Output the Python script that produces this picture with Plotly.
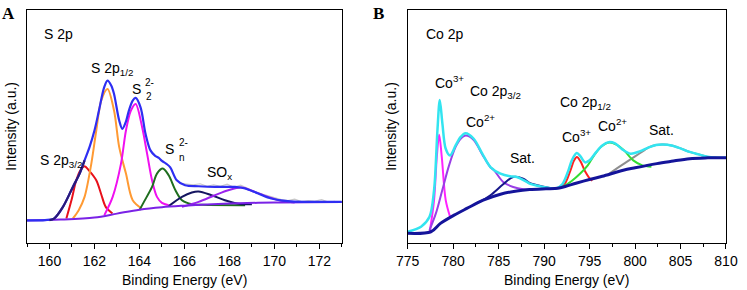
import plotly.graph_objects as go

# ---------------- Panel A: S 2p ----------------
a_env_x = [159.0, 159.8, 160.2, 160.6, 161.04, 161.34, 161.56, 161.78, 162.0, 162.2, 162.43, 162.58, 162.75, 162.87,
           163.1, 163.24, 163.4, 163.53, 163.7, 163.83, 164.05, 164.27, 164.49, 164.7, 164.86, 165.0, 165.2, 165.37,
           165.66, 166.03, 166.63, 167.36, 168.25, 168.7, 169.28, 169.86, 170.6, 171.5, 173.0]
a_env_y = [22.7, 23.0, 24.5, 36.3, 56.3, 69.7, 83.0, 96.3, 113.0, 133.0, 156.3, 163.0, 158.0, 149.7,
           123.0, 114.7, 122.0, 133.0, 143.0, 145.7, 136.3, 109.7, 93.0, 87.5, 85.5, 82.5, 79.5, 76.0,
           63.0, 58.0, 57.0, 56.3, 56.3, 54.7, 49.7, 44.7, 42.0, 41.3, 41.3]
a_navy_x = [160.0, 160.2, 160.6, 161.04, 161.34, 161.56]
a_navy_y = [23.0, 24.5, 36.3, 56.3, 69.7, 83.0]
a_base_x = [159.0, 160.5, 162.0, 163.0, 164.0, 165.0, 166.0, 167.0, 168.0, 170.0, 173.0]
a_base_y = [22.7, 23.5, 25.5, 29.5, 33.5, 36.0, 37.5, 38.7, 39.6, 40.7, 41.2]
a_red_x = [160.75, 161.0, 161.19, 161.4, 161.56, 161.75, 162.08, 162.3, 162.5, 162.8]
a_red_y = [24.7, 45.0, 63.0, 74.0, 77.0, 73.0, 63.0, 49.0, 36.3, 29.7]
a_org_x = [161.04, 161.3, 161.56, 161.86, 162.08, 162.3, 162.58, 162.87, 163.1, 163.4, 163.7, 164.1]
a_org_y = [24.7, 33.0, 46.3, 79.7, 113.0, 143.0, 154.7, 133.0, 96.3, 69.7, 43.0, 34.7]
a_mag_x = [162.44, 162.81, 163.18, 163.4, 163.62, 163.83, 164.12, 164.34, 164.56, 164.78, 165.0, 165.3]
a_mag_y = [28.0, 46.3, 79.7, 113.0, 133.0, 139.7, 116.3, 89.7, 63.0, 46.3, 40.3, 38.0]
a_grn_x = [164.0, 164.2, 164.56, 164.78, 165.04, 165.3, 165.6, 165.89, 166.33, 166.8, 168.7]
a_grn_y = [33.0, 41.3, 56.3, 69.7, 74.7, 68.0, 53.0, 43.0, 39.0, 38.3, 38.0]
a_nvy_x = [165.3, 165.89, 166.33, 166.63, 167.2, 167.8, 168.54, 169.0]
a_nvy_y = [37.0, 46.3, 50.7, 51.7, 48.0, 43.0, 39.0, 39.0]
a_sox_x = [165.89, 166.63, 167.36, 167.95, 168.54, 169.13, 169.72, 170.31, 170.9]
a_sox_y = [36.3, 41.3, 48.0, 53.0, 55.7, 51.3, 46.3, 42.3, 40.7]
a_raw_x = [165.8, 166.1, 166.4, 166.7, 167.0, 167.3, 167.6, 167.9, 168.2, 168.5, 168.8, 169.1, 169.5,
           169.9, 170.3, 170.6, 170.9, 171.2, 171.5, 171.8, 172.1, 172.4, 172.7]
a_raw_y = [60.0, 59.0, 58.5, 59.5, 57.0, 58.5, 57.0, 59.0, 56.0, 58.0, 55.0, 52.0, 49.0,
           46.0, 43.5, 42.5, 44.0, 41.5, 42.5, 42.0, 43.5, 41.0, 41.8]

# ---------------- Panel B: Co 2p ----------------
b_env_x = [775.0, 776.47, 777.4, 777.9, 778.27, 778.53, 778.82, 779.18, 779.66, 780.27, 780.8, 781.36, 782.26,
           783.2, 784.1, 785.2, 786.25, 787.0, 788.1, 788.4, 790.6, 791.3, 792.0, 792.6, 793.1, 793.6, 794.0,
           794.5, 795.0, 795.7, 796.4, 797.1, 797.8, 798.6, 799.5, 800.5, 801.5, 802.3, 803.1, 804.0, 805.0,
           806.0, 806.7, 807.8, 809.0, 810.0]
b_env_y = [11.3, 16.3, 26.3, 53.0, 113.0, 143.7, 119.7, 94.7, 88.0, 98.0, 106.3, 110.3, 104.7,
           89.7, 76.3, 69.7, 67.0, 66.3, 61.3, 59.7, 55.3, 54.7, 59.0, 71.0, 84.0, 90.3, 87.0,
           81.0, 83.0, 91.0, 98.0, 101.3, 100.0, 94.0, 89.7, 92.0, 96.0, 98.5, 99.0, 98.0, 95.0,
           91.5, 89.7, 87.0, 85.7, 85.5]
b_base_x = [775.0, 777.55, 778.6, 780.1, 781.5, 783.3, 785.2, 787.0, 788.4, 790.2, 791.5, 792.4, 793.5,
            795.1, 796.4, 798.7, 800.0, 802.4, 804.0, 806.0, 808.0, 810.0]
b_base_y = [9.7, 11.3, 19.7, 28.0, 34.7, 43.0, 49.0, 52.3, 53.7, 54.5, 55.0, 57.0, 60.0,
            64.0, 67.0, 73.0, 75.5, 79.7, 82.0, 84.7, 85.5, 85.7]
b_mag_x = [777.4, 777.9, 778.2, 778.46, 778.75, 779.18, 779.66]
b_mag_y = [9.7, 43.0, 86.3, 108.7, 86.3, 43.0, 26.3]
b_pur_x = [777.4, 778.1, 778.8, 779.55, 780.27, 780.8, 781.4, 782.26, 783.2, 784.1, 784.5, 785.5, 786.6,
           787.7, 788.4]
b_pur_y = [13.0, 29.7, 53.0, 78.0, 96.5, 104.5, 108.0, 103.5, 89.0, 76.0, 73.0, 61.3, 56.3,
           54.0, 53.7]
b_nvy_x = [782.6, 784.1, 785.5, 786.6, 787.7, 788.4, 789.5, 790.6]
b_nvy_y = [39.7, 48.0, 59.0, 66.3, 64.7, 60.3, 57.5, 55.3]
b_red_x = [791.7, 792.3, 792.9, 793.3, 793.6, 794.0, 794.5, 795.0, 795.3]
b_red_y = [55.7, 60.0, 73.0, 83.0, 86.3, 82.0, 72.0, 65.0, 62.5]
b_grn_x = [792.0, 793.0, 794.0, 794.8, 795.5, 796.3, 797.2, 798.0, 798.8, 799.8, 800.8, 801.8]
b_grn_y = [56.0, 62.0, 70.0, 78.0, 88.0, 97.0, 101.0, 98.5, 93.0, 83.0, 78.0, 76.5]
b_gry_x = [796.9, 798.0, 799.0, 800.0, 801.0, 801.5, 802.3, 803.1, 804.0, 805.0, 806.0, 807.0, 808.0,
           809.0, 810.0]
b_gry_y = [68.0, 75.0, 81.0, 87.0, 93.0, 96.0, 98.5, 99.0, 98.0, 95.0, 91.5, 89.0, 86.5,
           85.7, 85.4]

a_ticks = [160, 162, 164, 166, 168, 170, 172]
b_ticks = [775, 780, 785, 790, 795, 800, 805, 810]

FONT = "Liberation Sans, Arial, sans-serif"
W, H = 747, 290
L, R, T, B = 27, 14, 9, 47
PW, PH = W - L - R, H - T - B


def px(x):
    return (x - L) / PW


def py(y):
    return (H - B - y) / PH


fig = go.Figure()


def add(x, y, color, width, xa, ya, shape="spline"):
    fig.add_trace(go.Scatter(x=x, y=y, mode="lines", xaxis=xa, yaxis=ya,
                             line=dict(color=color, width=width, shape=shape, smoothing=0.9),
                             showlegend=False, hoverinfo="skip"))


# Panel A traces
add(a_raw_x, a_raw_y, "#c8c8c8", 1.2, "x", "y", "linear")
add(a_red_x, a_red_y, "#e8101a", 2, "x", "y")
add(a_org_x, a_org_y, "#ff9a33", 2, "x", "y")
add(a_mag_x, a_mag_y, "#f010f0", 2, "x", "y")
add(a_grn_x, a_grn_y, "#1f6e1f", 2, "x", "y")
add(a_nvy_x, a_nvy_y, "#151560", 2, "x", "y")
add(a_sox_x, a_sox_y, "#9a22ee", 2, "x", "y")
add(a_base_x, a_base_y, "#7a22e6", 2, "x", "y")
add(a_env_x, a_env_y, "#2e2ef2", 2.2, "x", "y")
add(a_navy_x, a_navy_y, "#2a1a78", 2.2, "x", "y")

# Panel B traces
add(b_gry_x, b_gry_y, "#8e8e8e", 2, "x2", "y2")
add(b_mag_x, b_mag_y, "#ff22ff", 2, "x2", "y2")
add(b_pur_x, b_pur_y, "#9a3ee6", 2, "x2", "y2")
add(b_nvy_x, b_nvy_y, "#16168a", 2, "x2", "y2")
add(b_red_x, b_red_y, "#ff2020", 2, "x2", "y2")
add(b_grn_x, b_grn_y, "#33dd33", 2, "x2", "y2")
add(b_env_x, b_env_y, "#33e4f0", 2.5, "x2", "y2")
add(b_base_x, b_base_y, "#14149a", 3, "x2", "y2")

axis_common = dict(showline=True, linecolor="black", linewidth=1, mirror=True, showgrid=False,
                   zeroline=False, ticks="outside", ticklen=5, tickcolor="black",
                   tickfont=dict(family=FONT, size=14, color="black"))
fig.update_layout(
    width=W, height=H, margin=dict(l=L, r=R, t=T, b=B),
    paper_bgcolor="white", plot_bgcolor="white",
    xaxis=dict(domain=[0, px(345)], range=[159, 173], tickvals=a_ticks,
               minor=dict(dtick=1, ticklen=3, tickcolor="black", ticks="outside"), **axis_common),
    yaxis=dict(domain=[0, 1], range=[0, 234], showline=True, linecolor="black", mirror=True,
               showticklabels=False, ticks="", showgrid=False, zeroline=False),
    xaxis2=dict(domain=[px(411.5), 1], range=[775, 810], tickvals=b_ticks, anchor="y2",
                minor=dict(dtick=2.5, ticklen=3, tickcolor="black", ticks="outside"), **axis_common),
    yaxis2=dict(domain=[0, 1], range=[0, 234], anchor="x2", showline=True, linecolor="black", mirror=True,
                showticklabels=False, ticks="", showgrid=False, zeroline=False),
)

ann = []


def txt(t, x, y, size=14, xanchor="left", family=FONT, angle=0):
    ann.append(dict(text=t, x=px(x), y=py(y), xref="paper", yref="paper", showarrow=False,
                    xanchor=xanchor, yanchor="middle", textangle=angle,
                    font=dict(family=family, size=size, color="black")))


# Panel letters
txt("<b>A</b>", 0, 13, size=17, family="Liberation Serif, Times New Roman, serif")
txt("<b>B</b>", 374, 13, size=17, family="Liberation Serif, Times New Roman, serif")
# axis titles
txt("Intensity (a.u.)", 10, 126, xanchor="center", angle=-90)
txt("Intensity (a.u.)", 394, 126, xanchor="center", angle=-90)
txt("Binding Energy (eV)", 186, 280, xanchor="center")
txt("Binding Energy (eV)", 572, 280, xanchor="center")

# Panel A labels
txt("S 2p", 42, 33)
txt("S 2p<sub>1/2</sub>", 90, 68)
txt("S 2p<sub>3/2</sub>", 38, 161)
txt("S", 131, 88)
txt("2-", 144, 82, size=10)
txt("2", 145, 96, size=10)
txt("S", 164, 149)
txt("2-", 179, 142, size=10)
txt("n", 179, 157, size=10)
txt("SO<sub>x</sub>", 207, 173)

# Panel B labels
txt("Co 2p", 428, 33)
txt("Co<sup>3+</sup>", 437, 81)
txt("Co 2p<sub>3/2</sub>", 472, 91)
txt("Co<sup>2+</sup>", 468, 120)
txt("Co 2p<sub>1/2</sub>", 563, 102)
txt("Co<sup>3+</sup>", 565, 136)
txt("Co<sup>2+</sup>", 602, 124)
txt("Sat.", 653, 130)
txt("Sat.", 513, 158)

fig.update_layout(annotations=ann)
fig.write_html("out.html", config={"displayModeBar": False},
               post_script="document.body.style.margin='0px';document.body.style.overflow='hidden';")
